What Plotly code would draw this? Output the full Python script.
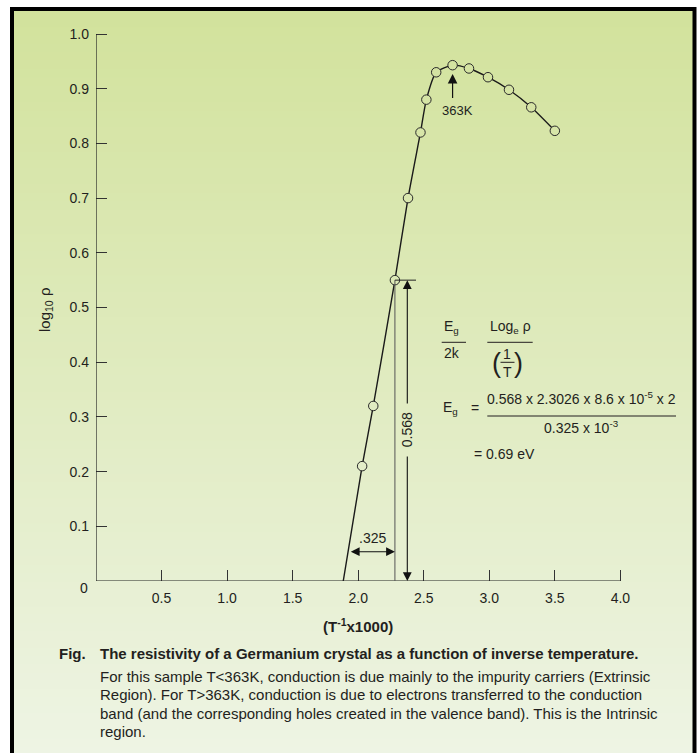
import plotly.graph_objects as go

# ---------------- data ----------------
inv_T = [2.03, 2.115, 2.28, 2.38, 2.475, 2.52, 2.595, 2.72, 2.845, 2.99, 3.15, 3.32, 3.50]
log_rho = [0.21, 0.32, 0.55, 0.70, 0.82, 0.88, 0.93, 0.943, 0.937, 0.921, 0.898, 0.866, 0.823]
line_start = (1.886, 0.0)          # where the extrinsic fit line meets the axis
x_ticks = [0.5, 1.0, 1.5, 2.0, 2.5, 3.0, 3.5, 4.0]
x_ticklabels = ["0.5", "1.0", "1.5", "2.0", "2.5", "3.0", "3.5", "4.0"]
y_ticks = [0.1, 0.2, 0.3, 0.4, 0.5, 0.6, 0.7, 0.8, 0.9, 1.0]
y_ticklabels = ["0.1", "0.2", "0.3", "0.4", "0.5", "0.6", "0.7", "0.8", "0.9", "1.0"]
delta_y = 0.568
delta_x = 0.325
peak_label = "363K"

# ---------------- geometry helpers ----------------
W, H = 698, 753
L, R, T, B = 96, 6, 14, 172
PW, PH = W - L - R, H - T - B
XU = 131.1   # px per x unit
YU = 547.0   # px per y unit
XMAX = PW / XU
YMAX = PH / YU
Y0 = T + PH  # pixel row of y=0

def dx(px):
    return (px - L) / XU

def dy(py):
    return (Y0 - py) / YU

def px_(px):
    return (px - L) / PW

def py_(py):
    return (Y0 - py) / PH

FONT = "Liberation Sans, Arial, sans-serif"
TXT = "#231f20"

top_c = (210, 226, 156)
bot_c = (238, 244, 228)

def grad(py):
    t = min(max((py - 11) / (H - 11), 0), 1)
    c = [round(a + (b - a) * t) for a, b in zip(top_c, bot_c)]
    return "rgb(%d,%d,%d)" % tuple(c)

fig = go.Figure()

# connecting line
fig.add_trace(go.Scatter(
    x=[line_start[0]] + inv_T, y=[line_start[1]] + log_rho,
    mode="lines", line=dict(color="#1a1a1a", width=1.4, shape="spline", smoothing=0.6),
    hoverinfo="skip", showlegend=False))

# markers (hollow look: filled with local background)
marker_fill = [grad(Y0 - v * YU) for v in log_rho]
fig.add_trace(go.Scatter(
    x=inv_T, y=log_rho, mode="markers",
    marker=dict(symbol="circle", size=9.5, color=marker_fill,
                line=dict(color="#2a2a2a", width=1)),
    showlegend=False))

shapes = []
# background gradient strips
N = 90
y_top, y_bot = 11, H + 2
for i in range(N):
    s = y_top + (y_bot - y_top) * i / N
    shapes.append(dict(type="rect", xref="paper", yref="paper",
                       x0=px_(13), x1=px_(693), y0=py_(s), y1=py_(y_bot + 10),
                       fillcolor=grad(s + (y_bot - y_top) / N / 2), line=dict(width=0),
                       layer="below"))
# frame
shapes.append(dict(type="rect", xref="paper", yref="paper",
                   x0=px_(12), x1=px_(694.5), y0=py_(9), y1=py_(H + 20),
                   line=dict(color="black", width=4), fillcolor="rgba(0,0,0,0)", layer="above"))
# axes lines
shapes.append(dict(type="line", xref="x", yref="y", x0=0, x1=4.0, y0=0, y1=0,
                   line=dict(color="#222", width=1.2)))
shapes.append(dict(type="line", xref="x", yref="y", x0=0, x1=0, y0=0, y1=1.0,
                   line=dict(color="#222", width=1.2)))
# vertical drop from 0.55 point
xp = inv_T[2]
shapes.append(dict(type="line", xref="x", yref="y", x0=xp, x1=xp, y0=0, y1=log_rho[2],
                   line=dict(color="#555", width=1)))
# top bar of 0.568 dimension
shapes.append(dict(type="line", xref="x", yref="y", x0=xp, x1=dx(416), y0=log_rho[2], y1=log_rho[2],
                   line=dict(color="#222", width=1)))
# formula fraction lines
for x0, x1, yy in [(441.7, 466, 342.3), (487.3, 532.7, 342.3), (500.5, 514.5, 362.3), (487.3, 676, 416)]:
    shapes.append(dict(type="line", xref="x", yref="y", x0=dx(x0), x1=dx(x1), y0=dy(yy), y1=dy(yy),
                       line=dict(color=TXT, width=1)))

ann = []

def text(px, py, s, size=14, bold=False, xanchor="center", angle=0, paper=False):
    if bold:
        s = "<b>" + s + "</b>"
    if paper:
        pos = dict(x=px_(px), y=py_(py), xref="paper", yref="paper")
    else:
        pos = dict(x=dx(px), y=dy(py), xref="x", yref="y")
    ann.append(dict(text=s, showarrow=False,
                    font=dict(family=FONT, size=size, color=TXT), xanchor=xanchor,
                    yanchor="middle", textangle=angle, **pos))

def arrow(x_tip, y_tip, x_tail, y_tail, side="end", size=1.0, width=1.2):
    ann.append(dict(x=x_tip, y=y_tip, ax=x_tail, ay=y_tail, xref="x", yref="y",
                    axref="x", ayref="y", text="", showarrow=True, arrowhead=2,
                    arrowside=side, arrowsize=size, arrowwidth=width, arrowcolor="#111",
                    startarrowhead=2, startarrowsize=size))

# 363K arrow + label
peak_x = inv_T[7]
arrow(peak_x, dy(74), peak_x, dy(99.5), size=1.6, width=1.2)
text(457, 110, peak_label, size=13)

# 0.568 dimension
xd = dx(407.3)
arrow(xd, log_rho[2], xd, dy(405), size=1.6, width=1.1)
arrow(xd, 0, xd, dy(455), size=1.6, width=1.1)
text(407.3, 430, "%.3f" % delta_y, size=14, angle=-90)

# .325 dimension
arrow(xp, dy(551.7), dx(349.3), dy(551.7), side="end+start", size=1.6, width=1.1)
text(372, 538, ("%.3f" % delta_x)[1:], size=14)

# formula
text(451.7, 326.7, "E<sub>g</sub>")
text(451.7, 353.3, "2k")
text(510, 326.7, "Log<sub>e</sub> ρ")
text(507.3, 354.3, "1")
text(507.3, 371.7, "T")
text(496.5, 362.5, "(", size=27)
text(518.5, 362.5, ")", size=27)
text(450, 408.3, "E<sub>g</sub>")
text(474.5, 408.3, "=")
text(581.7, 398.3, "0.568 x 2.3026 x 8.6 x 10<sup>-5</sup> x 2")
text(581.7, 426.7, "0.325 x 10<sup>-3</sup>")
text(472, 454, "= 0.69 eV", xanchor="left")

# axis labels (outside the plotting range -> paper coordinates)
text(84, 588, "0", paper=True)
text(358, 625, "(T<sup>-1</sup>x1000)", size=15, bold=True, paper=True)
text(45, 310, "log<sub>10</sub> ρ", size=15, angle=-90, paper=True)

# caption
text(57, 653.3, "Fig.", size=15, bold=True, xanchor="left", paper=True)
text(97.7, 653.3, "The resistivity of a Germanium crystal as a function of inverse temperature.",
     size=15, bold=True, xanchor="left", paper=True)
cap = ["For this sample T<363K, conduction is due mainly to the impurity carriers (Extrinsic",
       "Region). For T>363K, conduction is due to electrons transferred to the conduction",
       "band (and the corresponding holes created in the valence band). This is the Intrinsic",
       "region."]
for i, line in enumerate(cap):
    text(97.7, 676.7 + i * 18.3, line.replace("<", "&lt;").replace(">", "&gt;"),
         size=15, xanchor="left", paper=True)

fig.update_layout(
    width=W, height=H, margin=dict(l=L, r=R, t=T, b=B, pad=0),
    paper_bgcolor="white", plot_bgcolor="rgba(0,0,0,0)",
    shapes=shapes, annotations=ann, showlegend=False,
    font=dict(family=FONT, size=14, color=TXT),
    xaxis=dict(range=[0, XMAX], showgrid=False, zeroline=False, showline=False,
               tickvals=x_ticks, ticktext=x_ticklabels, ticks="inside", ticklen=11,
               tickwidth=1, tickcolor="#333", ticklabelstandoff=7,
               tickfont=dict(family=FONT, size=14, color=TXT), fixedrange=True),
    yaxis=dict(range=[0, YMAX], showgrid=False, zeroline=False, showline=False,
               tickvals=y_ticks, ticktext=y_ticklabels, ticks="inside", ticklen=11,
               tickwidth=1, tickcolor="#333", ticklabelstandoff=6,
               tickfont=dict(family=FONT, size=14, color=TXT), fixedrange=True),
)

fig.write_html("out.html", config={"displayModeBar": False},
               post_script="document.body.style.margin='0';document.body.style.overflow='hidden';")
